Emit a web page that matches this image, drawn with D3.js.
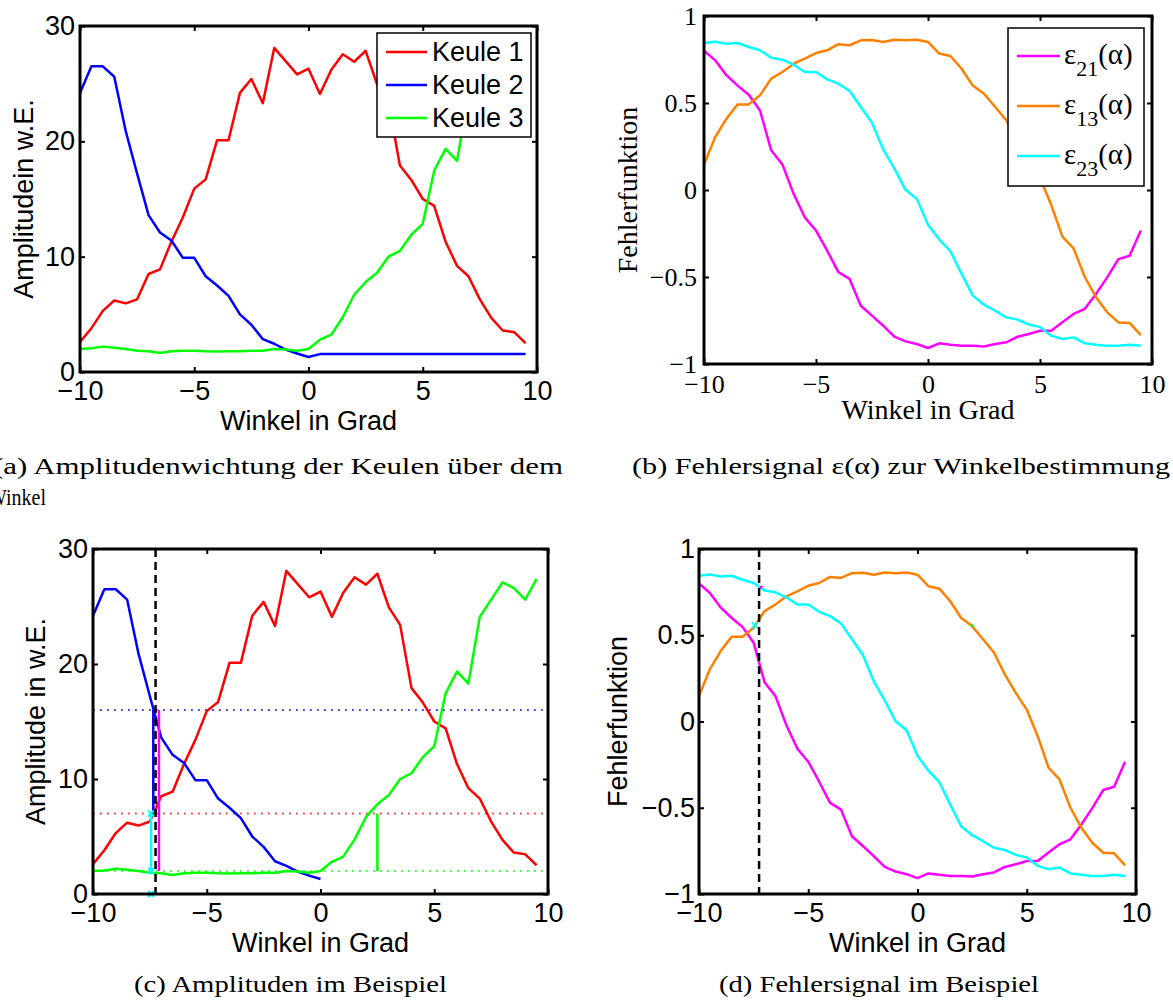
<!DOCTYPE html>
<html>
<head>
<meta charset="utf-8">
<script src="https://cdn.jsdelivr.net/npm/d3@7"></script>
<style>
  body { margin: 0; background: #fff; }
  svg { display: block; }
</style>
</head>
<body>
<div id="chart"></div>
<script>
// angle grid (degrees)
const angles = [-10, -9.5, -9, -8.5, -8, -7.5, -7, -6.5, -6, -5.5, -5, -4.5, -4, -3.5, -3, -2.5, -2, -1.5, -1, -0.5,
  0, 0.5, 1, 1.5, 2, 2.5, 3, 3.5, 4, 4.5, 5, 5.5, 6, 6.5, 7, 7.5, 8, 8.5, 9, 9.5];

// beam amplitudes (w.E.)
const keule1 = [2.6, 3.8, 5.3, 6.2, 5.95, 6.3, 8.5, 8.9, 11.3, 13.4, 15.9, 16.7, 20.1, 20.1, 24.2, 25.4, 23.3, 28.1, 26.95, 25.8,
  26.3, 24.1, 26.2, 27.55, 26.9, 27.85, 24.95, 23.4, 17.9, 16.65, 15.0, 14.4, 11.3, 9.2, 8.3, 6.3, 4.7, 3.6, 3.45, 2.5];
const keule2 = [24.2, 26.5, 26.5, 25.6, 20.9, 17.2, 13.6, 12.1, 11.4, 9.9, 9.9, 8.3, 7.5, 6.6, 5.0, 4.1, 2.85, 2.45, 1.95, 1.6,
  1.3, 1.55, 1.55, 1.55, 1.55, 1.55, 1.55, 1.55, 1.55, 1.55, 1.55, 1.55, 1.55, 1.55, 1.55, 1.55, 1.55, 1.55, 1.55, 1.55];
const keule3 = [2.0, 2.05, 2.2, 2.1, 2.0, 1.85, 1.8, 1.65, 1.8, 1.85, 1.85, 1.8, 1.78, 1.8, 1.8, 1.85, 1.85, 2.0, 1.95, 1.85,
  2.0, 2.8, 3.25, 4.75, 6.7, 7.8, 8.6, 10.0, 10.5, 11.9, 12.85, 17.45, 19.35, 18.3, 24.1, 25.6, 27.1, 26.6, 25.6, 27.4];

// error functions
const eps21 = [0.80, 0.745, 0.66, 0.60, 0.547, 0.457, 0.228, 0.147, -0.022, -0.157, -0.233, -0.349, -0.472, -0.511, -0.665, -0.722, -0.78, -0.843, -0.87, -0.885,
  -0.908, -0.881, -0.889, -0.895, -0.895, -0.899, -0.885, -0.875, -0.843, -0.828, -0.809, -0.809, -0.76, -0.712, -0.683, -0.597, -0.502, -0.397, -0.378, -0.233];
const eps13 = [0.147, 0.304, 0.41, 0.492, 0.492, 0.544, 0.64, 0.678, 0.726, 0.755, 0.787, 0.803, 0.838, 0.832, 0.86, 0.862, 0.851, 0.864, 0.86, 0.864,
  0.851, 0.784, 0.77, 0.697, 0.6, 0.553, 0.477, 0.40, 0.272, 0.166, 0.069, -0.085, -0.268, -0.336, -0.5, -0.616, -0.703, -0.761, -0.764, -0.834];
const eps23 = [0.845, 0.852, 0.84, 0.845, 0.822, 0.803, 0.76, 0.749, 0.72, 0.678, 0.678, 0.636, 0.611, 0.569, 0.477, 0.386, 0.233, 0.123, 0.001, -0.051,
  -0.199, -0.285, -0.352, -0.482, -0.607, -0.659, -0.694, -0.732, -0.745, -0.773, -0.788, -0.837, -0.856, -0.847, -0.881, -0.889, -0.895, -0.895, -0.889, -0.895];

const xTicks = [-10, -5, 0, 5, 10];
const ampTicks = [0, 10, 20, 30];
const errTicks = [-1, -0.5, 0, 0.5, 1];

// example: estimated angle and the beam levels there
const alpha = -7.25;
const levelK2 = 16, levelK1 = 7, levelK3 = 2;
const exampleEps = 0.557;

const RED = '#ff0000', BLUE = '#0000ff', GREEN = '#00ff00';
const MAGENTA = '#ff00ff', ORANGE = '#ff8000', CYAN = '#00ffff';
const SANS = '"Liberation Sans", Arial, sans-serif';
const SERIF = '"Liberation Serif", "Times New Roman", serif';

const svg = d3.select('#chart').append('svg')
  .attr('width', 1173)
  .attr('height', 1005);

const fmt = d3.format('');

function makePanel(o) {
  const w = o.right - o.left, h = o.bottom - o.top;
  const g = svg.append('g').attr('transform', `translate(${o.left},${o.top})`);
  const x = d3.scaleLinear().domain([-10, 10]).range([0, w]);
  const y = d3.scaleLinear().domain(o.yDomain).range([h, 0]);

  const axes = g.append('g').attr('class', 'axes');
  axes.append('g').attr('transform', `translate(0,${h})`)
    .call(d3.axisBottom(x).tickValues(xTicks).tickFormat(fmt).tickSize(-5).tickPadding(o.xPad));
  axes.append('g')
    .call(d3.axisTop(x).tickValues(xTicks).tickFormat('').tickSize(-5));
  axes.append('g')
    .call(d3.axisLeft(y).tickValues(o.yTicks).tickFormat(fmt).tickSize(-5).tickPadding(o.yPad));
  axes.append('g').attr('transform', `translate(${w},0)`)
    .call(d3.axisRight(y).tickValues(o.yTicks).tickFormat('').tickSize(-5));
  axes.selectAll('.domain').remove();
  axes.selectAll('.tick line').attr('stroke', '#000').attr('stroke-width', 2);
  axes.selectAll('.tick text')
    .style('font-family', o.font)
    .style('font-size', o.tickSize + 'px')
    .attr('fill', '#000');

  // axis labels
  g.append('text')
    .attr('x', w / 2).attr('y', o.xLabelY - o.top)
    .attr('text-anchor', 'middle')
    .style('font-family', o.font).style('font-size', o.labelSize + 'px')
    .text('Winkel in Grad');
  g.append('text')
    .attr('transform', `translate(${o.yLabelX - o.left},${h / 2}) rotate(-90)`)
    .attr('text-anchor', 'middle')
    .style('font-family', o.font).style('font-size', o.labelSize + 'px')
    .text(o.yLabel);

  const plot = g.append('g');
  return { g, plot, x, y, w, h };
}

function drawLine(p, xs, ys, color, width) {
  const line = d3.line().x((d, i) => p.x(xs[i])).y(d => p.y(d));
  p.plot.append('path')
    .datum(ys)
    .attr('fill', 'none')
    .attr('stroke', color)
    .attr('stroke-width', width || 2.5)
    .attr('stroke-linejoin', 'round')
    .attr('d', line);
}

function drawBox(p) {
  p.g.append('rect')
    .attr('width', p.w).attr('height', p.h)
    .attr('fill', 'none').attr('stroke', '#000').attr('stroke-width', 3);
}

function xMarker(p, xv, yv, color) {
  const cx = p.x(xv), cy = p.y(yv), s = 3;
  p.plot.append('path')
    .attr('d', `M${cx - s},${cy - s}L${cx + s},${cy + s}M${cx - s},${cy + s}L${cx + s},${cy - s}`)
    .attr('stroke', color).attr('stroke-width', 2);
}

// ---------- (a) ----------
const pa = makePanel({
  left: 80, right: 537, top: 26, bottom: 372, yDomain: [0, 30], yTicks: ampTicks,
  font: SANS, tickSize: 27, labelSize: 27, xPad: 9, yPad: 5,
  xLabelY: 430, yLabelX: 33, yLabel: 'Amplitudein w.E.'
});
drawLine(pa, angles, keule1, RED);
drawLine(pa, angles, keule2, BLUE);
drawLine(pa, angles, keule3, GREEN);
drawBox(pa);

const legA = svg.append('g').attr('transform', 'translate(377,33)');
legA.append('rect').attr('width', 154).attr('height', 104)
  .attr('fill', '#fff').attr('stroke', '#000').attr('stroke-width', 1.5);
[['Keule 1', RED], ['Keule 2', BLUE], ['Keule 3', GREEN]].forEach(([name, c], i) => {
  const yy = 19 + i * 33;
  legA.append('line').attr('x1', 9).attr('x2', 50).attr('y1', yy).attr('y2', yy)
    .attr('stroke', c).attr('stroke-width', 2.5);
  legA.append('text').attr('x', 55).attr('y', yy + 9)
    .style('font-family', SANS).style('font-size', '27px').text(name);
});

// ---------- (b) ----------
const pb = makePanel({
  left: 704, right: 1152, top: 16, bottom: 364, yDomain: [-1, 1], yTicks: errTicks,
  font: SERIF, tickSize: 26, labelSize: 28, xPad: 10.5, yPad: 7,
  xLabelY: 419, yLabelX: 637, yLabel: 'Fehlerfunktion'
});
drawLine(pb, angles, eps21, MAGENTA);
drawLine(pb, angles, eps13, ORANGE);
drawLine(pb, angles, eps23, CYAN);
drawBox(pb);

const legB = svg.append('g').attr('transform', 'translate(1008,28)');
legB.append('rect').attr('width', 136).attr('height', 158)
  .attr('fill', '#fff').attr('stroke', '#000').attr('stroke-width', 1.5);
[['21', MAGENTA], ['13', ORANGE], ['23', CYAN]].forEach(([sub, c], i) => {
  const yy = 28 + i * 50;
  legB.append('line').attr('x1', 9).attr('x2', 52).attr('y1', yy).attr('y2', yy)
    .attr('stroke', c).attr('stroke-width', 2.5);
  const t = legB.append('text').attr('x', 56).attr('y', yy + 8)
    .style('font-family', SERIF).style('font-size', '29px');
  t.append('tspan').text('ε');
  t.append('tspan').attr('dy', 12).style('font-size', '22px').text(sub);
  t.append('tspan').attr('dy', -12).text('(α)');
});

// ---------- (c) ----------
const pc = makePanel({
  left: 93, right: 548, top: 549, bottom: 894, yDomain: [0, 30], yTicks: ampTicks,
  font: SANS, tickSize: 27, labelSize: 27, xPad: 9, yPad: 5,
  xLabelY: 952, yLabelX: 45, yLabel: 'Amplitude in w.E.'
});
// dotted level lines
[[levelK2, BLUE], [levelK1, RED], [levelK3, GREEN], [0, GREEN]].forEach(([lv, c]) => {
  pc.plot.append('line')
    .attr('x1', pc.x(-10)).attr('x2', pc.x(10))
    .attr('y1', pc.y(lv)).attr('y2', pc.y(lv))
    .attr('stroke', c).attr('stroke-width', 1.8).attr('stroke-opacity', 0.75)
    .attr('stroke-dasharray', '1.8,5.2');
});
drawLine(pc, angles, keule1, RED);
drawLine(pc, angles.filter(a => a <= 0), keule2.filter((v, i) => angles[i] <= 0), BLUE);
drawLine(pc, angles, keule3, GREEN);
// difference bars at the estimated angle
const bars = [
  [alpha - 0.1, levelK2, levelK1, BLUE],
  [alpha + 0.15, levelK2, levelK3, MAGENTA],
  [alpha - 0.2, levelK1, levelK3, CYAN],
  [2.5, levelK1, levelK3, GREEN]
];
bars.forEach(([xv, y1, y2, c]) => {
  pc.plot.append('line')
    .attr('x1', pc.x(xv)).attr('x2', pc.x(xv))
    .attr('y1', pc.y(y1)).attr('y2', pc.y(y2))
    .attr('stroke', c).attr('stroke-width', 2.5);
});
[levelK1, levelK3, 0].forEach(lv => xMarker(pc, alpha - 0.2, lv, CYAN));
pc.plot.append('line')
  .attr('x1', pc.x(alpha)).attr('x2', pc.x(alpha))
  .attr('y1', pc.y(30)).attr('y2', pc.y(0))
  .attr('stroke', '#000').attr('stroke-width', 2.5).attr('stroke-dasharray', '8,5');
drawBox(pc);

// ---------- (d) ----------
const pd = makePanel({
  left: 699, right: 1136, top: 549, bottom: 894, yDomain: [-1, 1], yTicks: errTicks,
  font: SANS, tickSize: 27, labelSize: 27, xPad: 9, yPad: 4,
  xLabelY: 952, yLabelX: 627, yLabel: 'Fehlerfunktion'
});
drawLine(pd, angles, eps21, MAGENTA);
drawLine(pd, angles, eps13, ORANGE);
drawLine(pd, angles, eps23, CYAN);
xMarker(pd, alpha - 0.2, exampleEps, CYAN);
pd.plot.append('circle').attr('cx', pd.x(2.5)).attr('cy', pd.y(exampleEps)).attr('r', 1.5).attr('fill', GREEN);
pd.plot.append('circle').attr('cx', pd.x(alpha + 0.1)).attr('cy', pd.y(0.78)).attr('r', 1.5).attr('fill', MAGENTA);
pd.plot.append('circle').attr('cx', pd.x(alpha - 0.05)).attr('cy', pd.y(0.39)).attr('r', 1.5).attr('fill', BLUE);
pd.plot.append('line')
  .attr('x1', pd.x(alpha)).attr('x2', pd.x(alpha))
  .attr('y1', pd.y(1)).attr('y2', pd.y(-1))
  .attr('stroke', '#000').attr('stroke-width', 2.5).attr('stroke-dasharray', '8,5');
drawBox(pd);

// ---------- captions ----------
const captions = [
  { x: -7, y: 474, w: 570, text: '(a) Amplitudenwichtung der Keulen über dem' },
  { x: -12, y: 505, w: 58, text: 'Winkel' },
  { x: 632, y: 474, w: 538, text: '(b) Fehlersignal ε(α) zur Winkelbestimmung' },
  { x: 134, y: 992, w: 313, text: '(c) Amplituden im Beispiel' },
  { x: 719, y: 992, w: 320, text: '(d) Fehlersignal im Beispiel' }
];
captions.forEach(c => {
  svg.append('text')
    .attr('x', c.x).attr('y', c.y)
    .attr('textLength', c.w).attr('lengthAdjust', 'spacingAndGlyphs')
    .style('font-family', SERIF).style('font-size', '24px')
    .text(c.text);
});
</script>
</body>
</html>
